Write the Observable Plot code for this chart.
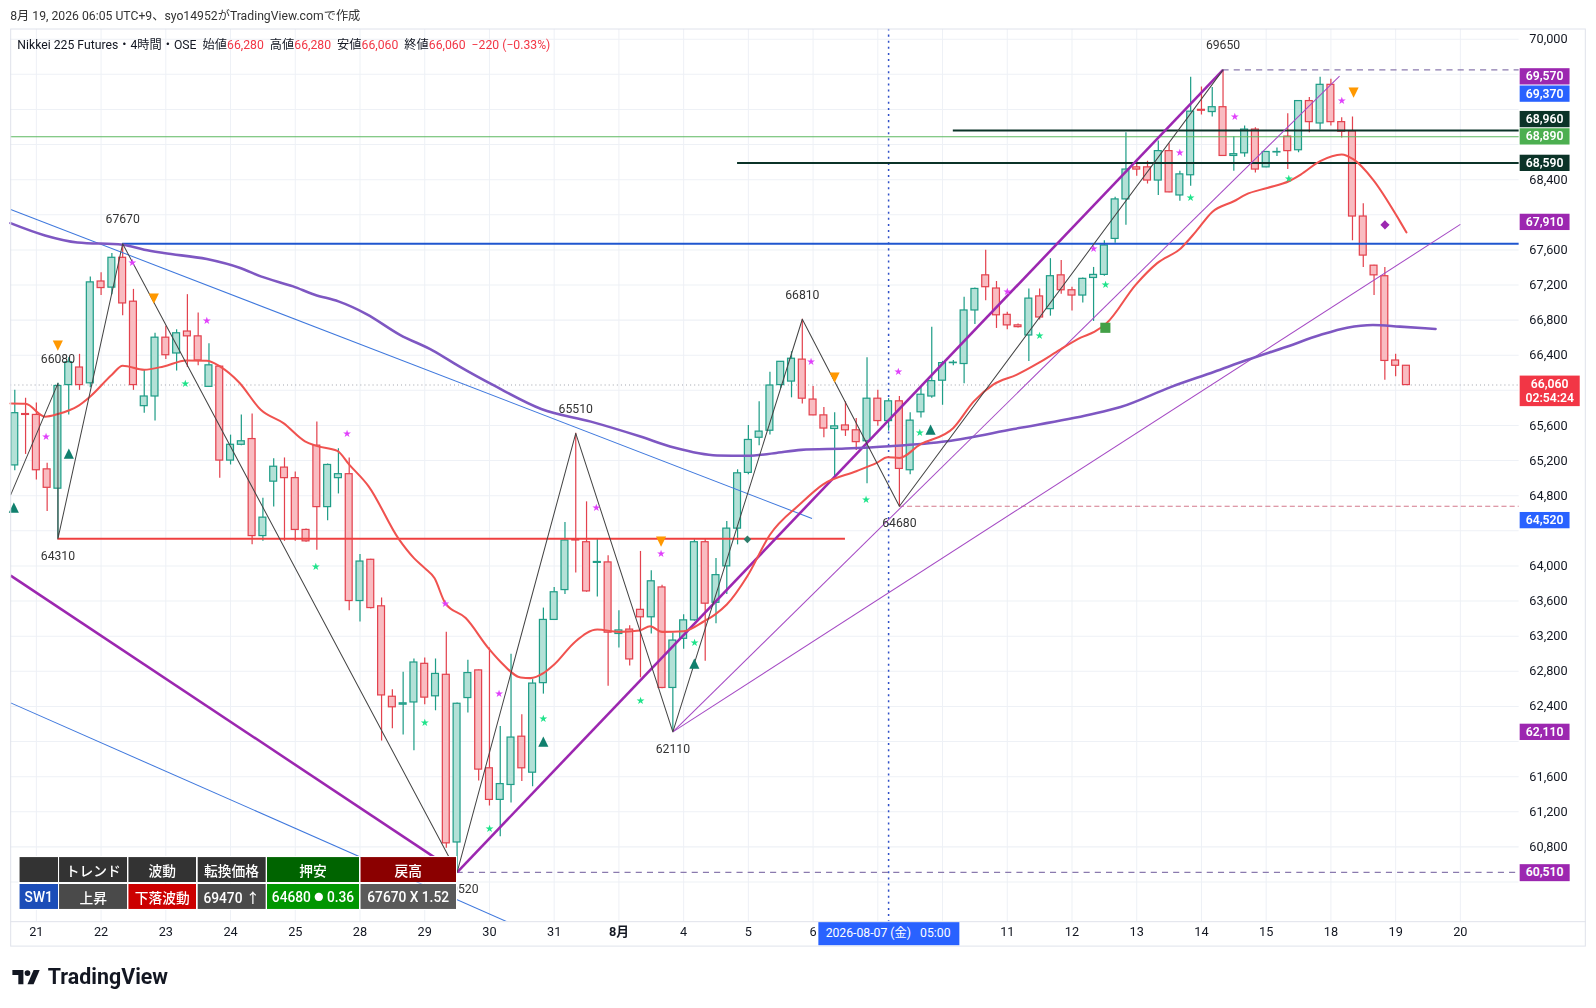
<!DOCTYPE html>
<html><head><meta charset="utf-8">
<script src="https://cdn.jsdelivr.net/npm/d3@7"></script>
<script src="https://cdn.jsdelivr.net/npm/@observablehq/plot@0.6"></script>
<style>
html{overflow:hidden;width:1596px;height:1008px}
body{margin:0;background:#fff;font-family:Roboto,"Noto Sans CJK JP",sans-serif;width:1596px;height:1008px;position:relative;overflow:hidden;color:#131722}
#root{position:absolute;left:0;top:0;width:1568px;height:990px;transform:scale(1.01786);transform-origin:0 0}
#top{position:absolute;left:10px;top:6px;font-size:12px;color:#333}
#panel{position:absolute;left:10px;top:28px;width:1548px;height:902px;border:1px solid #e0e3eb;box-sizing:border-box}
#xsep{position:absolute;left:10px;top:905px;width:1548px;height:1px;background:#e0e3eb}
#chart{position:absolute;left:0;top:28px;width:1568px;height:902px;overflow:hidden}
#chart svg{max-width:none!important}
#legend{position:absolute;left:17px;top:34px;font-size:12px;color:#131722;white-space:pre}
#legend .v{color:#f23645}
#tbl{position:absolute;left:18px;top:841px;border-collapse:collapse;table-layout:fixed;font-size:13.5px;font-weight:500;color:#fff;font-family:Roboto,"Noto Sans CJK JP",sans-serif}
#tbl td{border:1px solid #fff;height:24px;text-align:center;padding:0;white-space:nowrap;overflow:hidden;box-sizing:border-box}
#tbl .dot{font-size:9px;vertical-align:2px}
.tag{position:absolute;left:1493px;width:49px;height:16px;line-height:16px;font-size:12px;font-weight:600;color:#fff;text-align:center}
#xh{position:absolute;height:22px;line-height:22px;background:#2962ff;color:#fff;font-size:12px;text-align:center;white-space:pre}
#logo{position:absolute;left:12px;top:948px;display:flex;align-items:center;gap:5px;font-size:21px;font-weight:700;color:#131722;font-family:Roboto,sans-serif}
</style></head><body>
<div id="root">
<div id="top">8月 19, 2026 06:05 UTC+9、syo14952がTradingView.comで作成</div>
<div id="chart"></div>
<div id="panel"></div>
<div id="xsep"></div>
<div id="legend"></div>
<div id="logo"><svg width="30" height="18" viewBox="0 0 30 18"><path d="M0 2h11v14H6V7H0z" fill="#131722"/><circle cx="15" cy="5" r="2.8" fill="#131722"/><path d="M21 2h6l-6 14h-6z" fill="#131722"/></svg><span>TradingView</span></div>
</div>
<script>
// ---- candles (4h bars, index 0 = leftmost visible bar) ----
const O=[65145,65730,65720,65100,64880,66060,66260,66080,67240,67170,67510,67010,65820,65930,66600,66420,66670,66615,66040,66270,
65200,65380,65445,64340,64960,65120,65000,64410,65370,64670,65000,65045,63600,64070,63540,62510,62420,62445,62885,62515,
62760,60850,62495,62810,61695,61335,61505,62055,61645,62665,63385,63725,64300,64270,64035,64040,63225,63275,63500,63415,
63755,62610,63170,63380,64270,63580,63995,64425,65060,65460,65540,66060,66100,66350,65895,65715,65560,65600,65545,65420,
65905,65650,65875,65090,65750,65930,66110,66310,66300,66910,67310,67160,66860,66740,66625,67070,66925,67310,67140,67080,
67280,67315,67725,68175,68540,68540,68390,68725,68220,68450,69195,69170,69225,68670,68700,68970,68540,68710,68890,68735,
69295,69040,69480,69055,68950,67980,67420,67300,66340,66280];
const H=[66000,65910,65855,65170,66080,66370,66410,67290,67340,67560,67670,67150,66235,66650,66730,66690,67090,66880,66530,66280,
65490,65720,65730,64770,65220,65230,65070,64420,65640,65160,65335,65230,64130,64075,63635,62590,62790,62940,62950,62940,
63245,62440,62925,62815,63065,62170,62995,62305,62705,63520,63755,64495,65510,64730,64300,64115,63490,63320,64165,63945,
63780,63235,63445,64300,64300,64085,64505,65095,65600,65870,66205,66330,66440,66810,66045,65805,65745,65870,65680,66370,
66000,65905,65930,65745,66045,66720,66330,66340,67060,67165,67595,67240,66890,66755,67155,67155,67500,67480,67175,67280,
67400,67705,68200,68935,68610,68610,68840,68810,68495,69565,69455,69450,69650,68890,69010,68990,68715,68760,69150,69300,
69335,69565,69545,69105,69115,68125,67425,67400,66410,66280];
const L=[65085,65270,64980,64620,64310,65720,66000,66030,67080,67090,66850,66000,65740,65650,66350,66220,66260,66280,66035,65000,
65150,65370,64240,64280,64670,64280,64280,64270,64180,64515,64820,63490,63360,63510,62005,62145,62075,61895,62420,62350,
60785,60510,62325,61550,61265,60915,61300,61545,61485,62540,63380,63675,63920,63700,63645,62630,63065,62860,62725,63225,
62600,62110,63050,63370,62915,63340,63675,64240,65040,65370,65490,66020,65915,65845,65710,65460,64985,65475,65315,64935,
65590,65535,64680,65040,65685,65910,65830,66280,66075,66750,67020,66705,66690,66710,66330,66800,66845,67095,66905,66995,
66785,67300,67675,67880,68440,68350,68220,68250,68155,68325,69135,69115,68665,68495,68655,68475,68535,68665,68515,68705,
68935,68965,69010,68875,67705,67400,67080,66115,66155,66060];
const C=[65740,65720,65090,64890,66050,66320,66060,67230,67165,67510,66990,66060,65930,66600,66400,66650,66615,66340,66285,65200,
65380,65420,64340,64550,65130,65000,64410,64280,64670,65150,65045,63600,64050,63520,62525,62390,62435,62900,62500,62770,
60840,62430,62780,61680,61335,61515,62045,61695,62660,63385,63700,64290,64290,63710,64045,63240,63265,62935,63415,63825,
62610,63150,63380,64270,63570,63895,64425,65055,65435,65530,66055,66325,66360,65905,65715,65565,65590,65545,65410,65905,
65650,65875,65105,65655,65950,66105,66310,66315,66910,67155,67175,66855,66740,66720,67045,66830,67300,67140,67080,67270,
67315,67650,68175,68515,68515,68390,68725,68255,68460,69175,69185,69225,68670,68690,68970,68515,68715,68715,68725,69295,
69055,69480,69055,68945,67980,67535,67310,66335,66280,66060];

// ---- indicator lines: [bar, price] ----
const emaRed=[[-0.4,65850],[1,65847],[2.8,65700],[4,65730],[5.8,65817],[7,65931],[9,66178],[10,66280],[12,66235],[13.8,66273],[15.9,66341],[17.8,66337],[19,66273],[20.8,66090],[22.8,65779],[24.9,65627],[26.9,65420],[27.8,65373],[29.9,65310],[31,65154],[32.8,64907],[35.6,64305],[37,64089],[38,63975],[38.9,63862],[39.9,63577],[41.8,63406],[43.9,63064],[45,62912],[46.9,62729],[47.8,62722],[49,62779],[50,62877],[52,63143],[54,63275],[56,63249],[57.9,63264],[58.9,63313],[60,63249],[62,63256],[63.9,63370],[64.9,63446],[66,63560],[67.9,63882],[70,64355],[72.8,64705],[74.9,64927],[78,65079],[79.9,65174],[80.9,65238],[82,65230],[83.9,65382],[87,65572],[88.9,65875],[90.7,66065],[92.9,66179],[94.9,66312],[96.9,66464],[98.8,66600],[100.1,66668],[101.2,66764],[103.9,67202],[105.9,67449],[108.1,67620],[109.5,67811],[111,68032],[113,68154],[114.1,68230],[116.1,68306],[118.1,68382],[119.2,68458],[121,68611],[123,68687],[124.1,68630],[125.9,68401],[128.4,67925],[129,67800]];
const maPurple=[[-0.4,67905],[2.8,67765],[5.8,67685],[10,67659],[12,67602],[13.8,67564],[17.8,67495],[20.9,67393],[22.8,67298],[25.8,67184],[27.8,67089],[30,67013],[32.6,66869],[35.7,66633],[38.8,66451],[41.2,66273],[44.5,66050],[48.8,65788],[53.4,65644],[58,65474],[61.1,65348],[65.1,65258],[67.9,65254],[70.4,65284],[72.9,65322],[77,65337],[81.1,65363],[86.4,65420],[92.6,65560],[99.7,65724],[102.5,65810],[107.2,66040],[111.2,66212],[114.2,66345],[117.9,66497],[121,66630],[123.5,66714],[125.9,66745],[128.4,66726],[131.7,66700]];

// ---- zigzag pivots ----
const zigzag=[[-0.38,64810],[4,66080],[4,64310],[10,67670],[41,60510],[52,65510],[61,62110],[73,66810],[82,64680],[112,69650]];
const pivotHighs=[[4,66080],[10,67670],[52,65510],[73,66810],[112,69650]];
const pivotLows=[[4,64310],[41.4,60520],[61,62110],[82,64680]];

// ---- drawn lines: [bar1, price1, bar2, price2] ----
const thickPurple=[[41,60510,112,69650],[-0.38,63890,41,60510]];
const thinPurple=[[61,62110,122.8,69580],[61,62110,134,67890]];
const thinBlue=[[-0.38,68060,73.9,64540],[-0.38,62440,46.5,59900]];
// horizontal levels: [price, fromBar, toBar(null = right edge)]
const levelBlue=[[67670,10,null]];
const levelRed=[[64310,4,77]];
const levelDark=[[68960,87,null],[68590,67,null]];
const levelGreen=[[68890,-0.38,null]];
const dashedRose=[[64680,82,null]];
const dashedPurple=[[60510,41,null],[69650,112,null]];

// ---- markers [bar, price] ----
const starPink=[[2.9,65468],[10.9,67450],[17.8,66797],[30.8,65510],[39.9,63565],[44.9,62547],[53.9,64659],[59.9,64136],[73.8,66330],[81.9,66216],[92,67127],[100,67609],[108,68702],[113.1,69113],[123,69296]];
const starGreen=[[15.8,66072],[27.9,63995],[38,62209],[44,61001],[49,62254],[58,62468],[63,63124],[78.9,64749],[83.9,65515],[95,66627],[101.1,67202],[109,68192],[118.1,68409]];
const triUp=[[-0.1,64670],[5,65290],[49,62010],[63,62900],[84.9,65560]];
const triDown=[[4,66520],[12.9,67060],[59.9,64290],[76,66150],[124.1,69400]];
const diamondPurple=[[127,67895]];
const squareGreen=[[101.1,66726]];
const diamondTeal=[[67.9,64310]];

// ---- axes ----
const yTicks=d3.range(60400,70001,400);
const dayLabels=["21","22","23","24","25","28","29","30","31","8月","4","5","6","7","8","11","12","13","14","15","18","19","20"];
const dayBars=dayLabels.map((d,k)=>2+6*k);
const crossBar=81, crossText="2026-08-07 (金)   05:00";
// ---- price tags on the axis ----
const tagVals=[69570,69370,68960,68890,68590,67910,66060,64520,62110,60510];
const tagCols=["#9c27b0","#2962ff","#0b3328","#4caf50","#0b3328","#9c27b0","#f23645","#2962ff","#9c27b0","#9c27b0"];
const countdown="02:54:24";
// ---- table ----
const tblHead=["","トレンド","波動","転換価格","押安","戻高"];
const tblRow=["SW1","上昇","下落波動","69470 ↑","64680 ● 0.36","67670 X 1.52"];
const tblHeadBg=["#333","#333","#333","#333","#006400","#8b0000"];
const tblRowBg=["#1b4db8","#4a4a4a","#cc0000","#4a4a4a","#009600","#5a5a5a"];
const tblW=[39,68,68,68,92,95];

const XMAX=139.45, XMIN=-0.38, YDOM=[59948,70116];
const candles=O.map((o,i)=>({i,o,h:H[i],l:L[i],c:C[i],up:C[i]>=o}));
const upS="#1f9d87", upF="#b3e1d7", dnS="#e3424e", dnF="#f9bcc1";
const seg=a=>a.map(([x1,y1,x2,y2])=>({x1,y1,x2,y2}));
const lev=a=>a.map(([p,f,t])=>({p,f,t:t==null?XMAX:t}));
const pts=a=>a.map(([x,y])=>({x,y}));
const glyphFont="DejaVu Sans";
const root=document.getElementById("root");

// price tag positions (pushed up where they collide, as on TradingView)
const pxPerPt=877/(YDOM[1]-YDOM[0]);
const tickY=t=>(YDOM[1]-t)*pxPerPt;
const tagPos=tagVals.map((v,k)=>({v,k,y:tickY(v)})).sort((a,b)=>b.y-a.y);
{let prev=1e9; tagPos.forEach(t=>{t.y=Math.min(t.y,prev-17); prev=t.y;});}
const shownTicks=yTicks.filter(t=>tagPos.every(p=>Math.abs(p.y-tickY(t))>(p.v===C[C.length-1]?19:13.5)));
const pxPerBar=1482/(XMAX-XMIN);
const shownDays=dayLabels.map((d,k)=>({d,b:dayBars[k]})).filter(o=>Math.abs(o.b-crossBar)*pxPerBar>72);

const chart=Plot.plot({
  width:1568,height:902,marginTop:0,marginBottom:25,marginLeft:10,marginRight:76,
  x:{domain:[XMIN,XMAX],axis:null},
  y:{domain:YDOM,axis:null},
  style:{fontFamily:'Roboto,"Noto Sans CJK JP",sans-serif',fontSize:"12px",color:"#131722",background:"transparent"},
  marks:[
    Plot.gridY(yTicks,{stroke:"#eef1f6",strokeOpacity:1}),
    Plot.gridX(dayBars,{stroke:"#eef1f6",strokeOpacity:1}),
    Plot.axisY(shownTicks,{anchor:"right",tickSize:0,tickPadding:10,tickFormat:d3.format(","),fontSize:12.5,fill:"#131722",label:null}),
    Plot.text(shownDays,{filter:o=>o.d!=="8月",x:"b",text:"d",frameAnchor:"bottom",dy:14,fontSize:12.5,fill:"#131722"}),
    Plot.text(shownDays,{filter:o=>o.d==="8月",x:"b",text:"d",frameAnchor:"bottom",dy:14,fontSize:12.5,fontWeight:"bold",fill:"#131722"}),
    Plot.ruleY([C[C.length-1]],{x1:XMIN,x2:XMAX,stroke:"#a0a4ad",strokeDasharray:"1 3"}),
    Plot.ruleX([crossBar],{stroke:"#3050c8",strokeWidth:1.5,strokeDasharray:"2 4"}),
    Plot.ruleX(candles,{x:"i",y1:"l",y2:"h",stroke:d=>d.up?upS:dnS,strokeWidth:1.2}),
    Plot.rect(candles,{x1:d=>d.i-0.32,x2:d=>d.i+0.32,y1:"o",y2:"c",fill:d=>d.up?upF:dnF,stroke:d=>d.up?upS:dnS,strokeWidth:1.2}),
    Plot.ruleY(lev(dashedRose),{y:"p",x1:"f",x2:"t",stroke:"#d47a8c",strokeWidth:1.2,strokeDasharray:"5 3"}),
    Plot.ruleY(lev(dashedPurple),{y:"p",x1:"f",x2:"t",stroke:"#8a7aae",strokeWidth:1.2,strokeDasharray:"6 5"}),
    Plot.ruleY(lev(levelGreen),{y:"p",x1:"f",x2:"t",stroke:"#5cb860",strokeWidth:1}),
    Plot.ruleY(lev(levelDark),{y:"p",x1:"f",x2:"t",stroke:"#0b3328",strokeWidth:2}),
    Plot.ruleY(lev(levelBlue),{y:"p",x1:"f",x2:"t",stroke:"#1f56cf",strokeWidth:2}),
    Plot.ruleY(lev(levelRed),{y:"p",x1:"f",x2:"t",stroke:"#ef4040",strokeWidth:2}),
    Plot.link(seg(thinBlue),{x1:"x1",y1:"y1",x2:"x2",y2:"y2",stroke:"#3f78dd",strokeWidth:1,clip:true}),
    Plot.link(seg(thinPurple),{x1:"x1",y1:"y1",x2:"x2",y2:"y2",stroke:"#a54ac4",strokeWidth:1,clip:true}),
    Plot.link(seg(thickPurple),{x1:"x1",y1:"y1",x2:"x2",y2:"y2",stroke:"#9c27b0",strokeWidth:2.5,clip:true}),
    Plot.line(maPurple,{x:d=>d[0],y:d=>d[1],stroke:"#7e57c2",strokeWidth:2.5,curve:"monotone-x"}),
    Plot.line(emaRed,{x:d=>d[0],y:d=>d[1],stroke:"#f0524f",strokeWidth:2,curve:"monotone-x"}),
    Plot.line(zigzag,{x:d=>d[0],y:d=>d[1],stroke:"#444",strokeWidth:1}),
    Plot.text(pts(pivotHighs),{x:"x",y:"y",text:d=>String(d.y),dy:-24,fontSize:12,fill:"#333"}),
    Plot.text(pts(pivotLows),{x:"x",y:"y",text:d=>String(d.y),dy:17,fontSize:12,fill:"#333"}),
    Plot.text(pts(starPink),{x:"x",y:"y",text:()=>"★",fill:"#e040fb",fontSize:10,fontFamily:glyphFont}),
    Plot.text(pts(starGreen),{x:"x",y:"y",text:()=>"★",fill:"#1ee38a",fontSize:10,fontFamily:glyphFont}),
    Plot.text(pts(triUp),{x:"x",y:"y",text:()=>"▲",fill:"#11806e",fontSize:13,fontFamily:glyphFont}),
    Plot.text(pts(triDown),{x:"x",y:"y",text:()=>"▼",fill:"#ff9800",fontSize:13,fontFamily:glyphFont}),
    Plot.text(pts(diamondPurple),{x:"x",y:"y",text:()=>"◆",fill:"#9c27b0",fontSize:12,fontFamily:glyphFont}),
    Plot.text(pts(diamondTeal),{x:"x",y:"y",text:()=>"◆",fill:"#2e7d6b",fontSize:10,fontFamily:glyphFont}),
    Plot.text(pts(squareGreen),{x:"x",y:"y",text:()=>"■",fill:"#43a047",fontSize:13,fontFamily:glyphFont})
  ]
});
document.getElementById("chart").appendChild(chart);
const ys=chart.scale("y"), xs=chart.scale("x");
const fmt=d3.format(",");

const n=C.length-1, chg=C[n]-C[n-1];
document.getElementById("legend").innerHTML=
 `Nikkei 225 Futures・4時間・OSE  始値<span class="v">${fmt(O[n])}</span>  高値<span class="v">${fmt(H[n])}</span>  安値<span class="v">${fmt(L[n])}</span>  終値<span class="v">${fmt(C[n])}</span>  <span class="v">${chg<0?"−":"+"}${Math.abs(chg)} (${chg<0?"−":"+"}${Math.abs(chg/C[n-1]*100).toFixed(2)}%)</span>`;

// tags placed with the library's y scale, then shifted where they collide
const placed=tagVals.map((v,k)=>({v,k,y:28+ys.apply(v)})).sort((a,b)=>b.y-a.y);
{let prev=1e9; placed.forEach(t=>{t.y=Math.min(t.y,prev-17); prev=t.y;});}
placed.forEach(t=>{
  const d=document.createElement("div");d.className="tag";d.style.background=tagCols[t.k];
  if(t.v===C[n]){d.style.height="30px";d.style.width="59px";d.style.lineHeight="14px";d.style.top=(t.y-9)+"px";d.style.paddingTop="1px";d.style.boxSizing="border-box";d.innerHTML=fmt(t.v)+"<br>"+countdown;}
  else{d.style.top=(t.y-8)+"px";d.textContent=fmt(t.v);}
  root.appendChild(d);
});

const xh=document.createElement("div");xh.id="xh";xh.textContent=crossText;
const cx=xs.apply(crossBar);xh.style.left=(cx-69)+"px";xh.style.width="138px";xh.style.top="906px";
root.appendChild(xh);

const tbl=document.createElement("table");tbl.id="tbl";
tbl.style.width=d3.sum(tblW)+"px";
[[tblHead,tblHeadBg],[tblRow,tblRowBg]].forEach(([row,bg])=>{
  const tr=document.createElement("tr");
  row.forEach((t,k)=>{const td=document.createElement("td");
    if(t.includes("●")){const [a,b]=t.split("●");td.append(a);const s=document.createElement("span");s.className="dot";s.textContent="●";td.append(s);td.append(b);}
    else td.textContent=t;
    td.style.background=bg[k];td.style.width=tblW[k]+"px";td.style.height="26px";tr.appendChild(td);});
  tbl.appendChild(tr);
});
root.appendChild(tbl);
</script>
</body></html>
